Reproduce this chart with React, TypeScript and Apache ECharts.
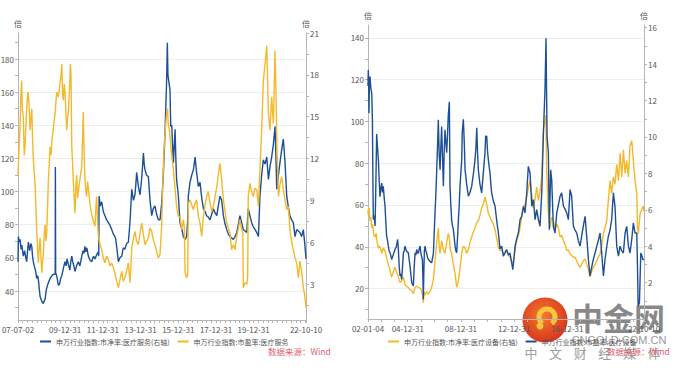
import React, { useEffect, useRef } from "react";
import * as echarts from "echarts";

// ---------- data (x = decimal year, y = value) ----------
// 左图：医疗服务
const leftPBName = "申万行业指数:市净率:医疗服务(右轴)";
const leftPEName = "申万行业指数:市盈率:医疗服务";
// 右图：医疗设备
const rightPBName = "申万行业指数:市净率:医疗设备(右轴)";
const rightPEName = "申万行业指数:市盈率:医疗设备";

const leftXLabels = ["2007-07-02", "2009-12-31", "2011-12-31", "2013-12-31", "2015-12-31", "2017-12-31", "2019-12-31", "2022-10-10"];
const rightXLabels = ["2002-01-04", "2004-12-31", "2008-12-31", "2012-12-31", "2016-12-31", "2022-10-10"];

const leftPELabels = [40, 60, 80, 100, 120, 140, 160, 180];
const leftPBLabels = [3, 6, 9, 12, 15, 18, 21];
const rightPELabels = [20, 40, 60, 80, 100, 120, 140];
const rightPBLabels = [2, 4, 6, 8, 10, 12, 14, 16];

const leftPE: [number, number][] = [
  [2007.50,110],[2007.55,125],[2007.61,140],[2007.65,158],[2007.69,167],[2007.73,150],[2007.78,145],[2007.83,122],[2007.87,127],[2007.92,140],[2007.96,150],[2008.02,160],[2008.05,159],[2008.10,148],[2008.14,137],[2008.19,145],[2008.23,150],[2008.27,132],[2008.31,120],[2008.36,112],[2008.40,105],[2008.45,90],[2008.49,77],[2008.54,64],[2008.58,57],[2008.63,68],[2008.67,72],[2008.72,60],[2008.76,51],[2008.80,58],[2008.84,62],[2008.89,75],[2008.93,80],[2008.98,70],[2009.02,75],[2009.07,92],[2009.11,107],[2009.16,118],[2009.20,127],[2009.25,122],[2009.29,130],[2009.37,138],[2009.46,147],[2009.55,160],[2009.64,157],[2009.72,165],[2009.78,170],[2009.82,177],[2009.86,160],[2009.90,155],[2009.95,165],[2009.99,160],[2010.03,150],[2010.08,137],[2010.13,145],[2010.17,148],[2010.22,160],[2010.28,177],[2010.31,170],[2010.35,127],[2010.39,118],[2010.43,107],[2010.48,95],[2010.52,87],[2010.57,103],[2010.61,110],[2010.66,96],[2010.70,100],[2010.79,108],[2010.88,115],[2010.93,135],[2010.96,148],[2011.00,125],[2011.05,107],[2011.10,100],[2011.14,97],[2011.19,106],[2011.23,102],[2011.32,92],[2011.41,86],[2011.50,82],[2011.58,79],[2011.63,90],[2011.67,97],[2011.72,82],[2011.76,73],[2011.85,68],[2011.94,65],[2012.02,60],[2012.11,57],[2012.20,61],[2012.29,59],[2012.38,55],[2012.47,57],[2012.55,54],[2012.64,51],[2012.73,46],[2012.82,42],[2012.91,47],[2013.00,52],[2013.08,46],[2013.17,48],[2013.26,52],[2013.35,57],[2013.40,50],[2013.44,45],[2013.49,56],[2013.53,66],[2013.62,72],[2013.70,76],[2013.79,70],[2013.88,68],[2013.97,75],[2014.06,81],[2014.15,74],[2014.23,68],[2014.32,70],[2014.41,72],[2014.50,78],[2014.59,76],[2014.67,71],[2014.76,68],[2014.85,64],[2014.94,60],[2015.03,62],[2015.12,80],[2015.21,117],[2015.29,135],[2015.38,147],[2015.43,150],[2015.47,140],[2015.52,138],[2015.56,133],[2015.65,122],[2015.74,113],[2015.83,102],[2015.91,91],[2016.00,85],[2016.09,85],[2016.18,77],[2016.27,83],[2016.32,78],[2016.36,51],[2016.44,48],[2016.50,50],[2016.53,93],[2016.62,95],[2016.71,92],[2016.80,89],[2016.89,93],[2016.97,95],[2017.06,85],[2017.15,81],[2017.24,73],[2017.33,85],[2017.42,92],[2017.50,97],[2017.59,100],[2017.68,93],[2017.77,88],[2017.86,91],[2017.95,97],[2018.04,103],[2018.12,110],[2018.21,117],[2018.30,107],[2018.39,95],[2018.48,88],[2018.57,81],[2018.65,78],[2018.74,75],[2018.83,65],[2018.92,68],[2019.01,65],[2019.10,73],[2019.19,78],[2019.27,83],[2019.36,77],[2019.42,75],[2019.45,42],[2019.54,45],[2019.63,44],[2019.68,48],[2019.71,97],[2019.80,105],[2019.89,100],[2019.98,97],[2020.07,102],[2020.16,101],[2020.25,91],[2020.33,113],[2020.42,137],[2020.51,167],[2020.60,177],[2020.69,188],[2020.74,165],[2020.78,147],[2020.86,137],[2020.95,157],[2021.04,141],[2021.13,185],[2021.18,160],[2021.22,131],[2021.31,97],[2021.40,105],[2021.48,109],[2021.57,101],[2021.66,95],[2021.75,89],[2021.84,91],[2021.92,77],[2022.01,70],[2022.10,65],[2022.19,60],[2022.28,57],[2022.37,48],[2022.45,58],[2022.54,52],[2022.63,42],[2022.70,38],[2022.775,30]
];

const leftPB: [number, number][] = [
  [2007.50,4.6],[2007.52,6.4],[2007.56,6.0],[2007.61,6.2],[2007.66,5.5],[2007.70,5.8],[2007.78,5.0],[2007.85,5.4],[2007.91,4.9],[2007.96,4.6],[2008.02,5.6],[2008.05,6.0],[2008.12,5.4],[2008.18,5.9],[2008.23,5.7],[2008.27,5.0],[2008.31,4.6],[2008.36,4.3],[2008.40,4.1],[2008.45,3.8],[2008.49,3.4],[2008.54,3.6],[2008.58,3.3],[2008.63,2.6],[2008.67,2.1],[2008.72,1.9],[2008.78,1.7],[2008.84,1.6],[2008.89,1.8],[2008.93,1.9],[2009.00,2.6],[2009.06,2.9],[2009.11,3.1],[2009.20,3.4],[2009.29,3.6],[2009.38,3.7],[2009.47,3.7],[2009.48,11.4],[2009.495,3.8],[2009.55,3.6],[2009.60,3.2],[2009.64,2.9],[2009.70,3.0],[2009.76,3.4],[2009.82,3.6],[2009.90,4.1],[2009.99,4.6],[2010.05,4.3],[2010.10,4.8],[2010.17,4.4],[2010.25,4.0],[2010.30,4.6],[2010.35,5.0],[2010.40,4.6],[2010.46,4.3],[2010.52,3.9],[2010.60,4.3],[2010.70,4.6],[2010.78,4.3],[2010.88,5.0],[2010.95,5.4],[2011.00,5.2],[2011.05,5.7],[2011.10,5.3],[2011.15,5.6],[2011.23,5.0],[2011.32,4.7],[2011.41,4.6],[2011.50,5.0],[2011.58,4.8],[2011.67,5.1],[2011.76,5.3],[2011.78,5.0],[2011.80,9.3],[2011.86,8.6],[2011.94,8.9],[2012.02,8.2],[2012.11,7.9],[2012.20,7.6],[2012.29,7.4],[2012.38,7.2],[2012.47,6.9],[2012.55,6.6],[2012.64,6.4],[2012.68,6.2],[2012.73,5.7],[2012.78,5.1],[2012.82,4.6],[2012.91,4.9],[2013.00,5.0],[2013.08,5.6],[2013.17,5.5],[2013.26,5.9],[2013.35,6.0],[2013.44,7.5],[2013.53,9.8],[2013.62,9.0],[2013.70,9.4],[2013.75,10.2],[2013.79,11.0],[2013.88,10.0],[2013.97,9.4],[2014.06,10.6],[2014.15,12.4],[2014.19,11.6],[2014.23,11.2],[2014.32,10.8],[2014.41,10.7],[2014.50,9.0],[2014.59,7.9],[2014.67,8.4],[2014.76,8.6],[2014.85,8.0],[2014.94,7.6],[2015.03,7.6],[2015.12,8.8],[2015.21,11.0],[2015.30,14.0],[2015.38,17.5],[2015.42,20.3],[2015.45,18.0],[2015.50,17.5],[2015.56,16.9],[2015.60,14.3],[2015.65,14.4],[2015.74,11.7],[2015.83,14.1],[2015.87,12.0],[2015.91,10.5],[2016.00,9.4],[2016.09,7.4],[2016.18,7.0],[2016.27,6.4],[2016.36,6.2],[2016.44,6.4],[2016.50,7.6],[2016.53,9.3],[2016.62,10.3],[2016.71,10.8],[2016.80,11.2],[2016.89,12.1],[2016.97,11.0],[2017.06,10.0],[2017.15,10.3],[2017.24,9.2],[2017.33,8.4],[2017.42,8.2],[2017.50,7.9],[2017.59,7.8],[2017.68,7.6],[2017.77,8.0],[2017.86,8.4],[2017.95,8.1],[2018.04,7.9],[2018.12,8.6],[2018.21,9.3],[2018.30,9.0],[2018.39,7.9],[2018.48,7.3],[2018.57,6.9],[2018.65,6.6],[2018.74,6.4],[2018.83,6.3],[2018.92,6.2],[2019.01,6.4],[2019.10,6.7],[2019.19,7.3],[2019.27,7.9],[2019.36,7.4],[2019.45,6.9],[2019.54,6.8],[2019.63,6.7],[2019.71,8.4],[2019.80,7.9],[2019.89,7.4],[2019.98,7.1],[2020.07,6.9],[2020.16,6.7],[2020.25,6.4],[2020.33,9.3],[2020.42,10.8],[2020.51,11.9],[2020.60,11.6],[2020.69,12.1],[2020.78,10.5],[2020.86,11.4],[2020.95,12.1],[2021.04,13.0],[2021.13,14.3],[2021.18,12.0],[2021.22,9.8],[2021.31,10.8],[2021.39,11.7],[2021.48,12.6],[2021.57,13.4],[2021.66,11.7],[2021.75,9.3],[2021.84,8.5],[2021.92,7.9],[2022.01,7.6],[2022.10,7.4],[2022.19,6.4],[2022.28,6.9],[2022.37,6.8],[2022.45,6.7],[2022.54,6.4],[2022.63,6.9],[2022.70,6.0],[2022.775,4.8]
];

const rightPE: [number, number][] = [
  [2002.008,117],[2002.03,124.7],[2002.06,118],[2002.08,104],[2002.12,120],[2002.16,121.5],[2002.22,116],[2002.29,113.5],[2002.34,101],[2002.38,70],[2002.41,53],[2002.48,55],[2002.54,50],[2002.60,70],[2002.66,94],[2002.72,88],[2002.79,81.7],[2002.85,72],[2002.91,64],[2002.98,68],[2003.04,70.5],[2003.10,66],[2003.16,69],[2003.22,64],[2003.29,59.4],[2003.35,52],[2003.41,45],[2003.48,43],[2003.54,40.3],[2003.60,38],[2003.66,37.1],[2003.72,36],[2003.79,33.9],[2003.90,36],[2004.04,38.7],[2004.14,40],[2004.24,43.5],[2004.30,38],[2004.36,30],[2004.42,26],[2004.48,27],[2004.54,24.4],[2004.60,30],[2004.67,37],[2004.73,38],[2004.79,40.3],[2004.90,38],[2005.04,37.1],[2005.10,34],[2005.17,30.7],[2005.23,27],[2005.30,22.8],[2005.36,22],[2005.42,21.2],[2005.48,30],[2005.55,37.1],[2005.61,36],[2005.67,38.7],[2005.73,37],[2005.80,37],[2005.86,39],[2005.92,40.3],[2006.01,36],[2006.10,33.9],[2006.14,25],[2006.17,14.8],[2006.21,28],[2006.25,38],[2006.30,40.3],[2006.36,38],[2006.42,37],[2006.48,35],[2006.55,33.9],[2006.67,33],[2006.80,32.3],[2006.93,37],[2007.05,56.2],[2007.12,66],[2007.18,76.9],[2007.25,90],[2007.30,100.8],[2007.36,85],[2007.43,76.9],[2007.49,88],[2007.55,97.6],[2007.62,82],[2007.68,69],[2007.74,85],[2007.80,96],[2007.87,90],[2007.93,85],[2008.00,95],[2008.05,103],[2008.13,109.4],[2008.18,69],[2008.24,60],[2008.30,53],[2008.37,50],[2008.43,48.2],[2008.50,44],[2008.56,40.3],[2008.62,38],[2008.68,37.1],[2008.75,45],[2008.81,53],[2008.87,60],[2008.93,69],[2009.00,76],[2009.06,81.7],[2009.10,95],[2009.18,101],[2009.25,90],[2009.31,76.9],[2009.43,70],[2009.56,64.2],[2009.68,66],[2009.81,69],[2009.94,75],[2010.06,81.7],[2010.13,88],[2010.19,97],[2010.25,85],[2010.31,76.9],[2010.43,70],[2010.56,65.8],[2010.68,75],[2010.81,84.9],[2010.86,93],[2010.94,92.9],[2011.00,86],[2011.06,81.7],[2011.13,78],[2011.19,75.3],[2011.25,70],[2011.31,65.8],[2011.44,62],[2011.57,59.4],[2011.70,52],[2011.82,46.6],[2011.94,39],[2012.07,40.3],[2012.19,35.5],[2012.32,37],[2012.44,38.7],[2012.57,36],[2012.69,37],[2012.80,33],[2012.90,29],[2013.00,35],[2013.07,40.3],[2013.20,44],[2013.32,46.6],[2013.45,53],[2013.57,54.6],[2013.70,59.4],[2013.82,56.2],[2013.95,65.8],[2014.07,78.5],[2014.20,75.3],[2014.33,59.4],[2014.45,62.6],[2014.58,53],[2014.70,57.8],[2014.83,53],[2014.95,49.8],[2015.08,65.8],[2015.20,92.9],[2015.33,116.7],[2015.40,139.8],[2015.48,92.9],[2015.58,84.9],[2015.65,48.2],[2015.75,76.9],[2015.83,72.1],[2015.95,49.8],[2016.08,46.6],[2016.21,56.2],[2016.33,60],[2016.46,64.2],[2016.58,65.8],[2016.71,59.4],[2016.83,58],[2016.96,56.2],[2017.08,53],[2017.21,67.4],[2017.33,64.2],[2017.46,49.8],[2017.58,48],[2017.71,46.6],[2017.83,43],[2017.96,40.3],[2018.08,45],[2018.21,50],[2018.34,54.6],[2018.46,45],[2018.59,33.9],[2018.71,26],[2018.83,30],[2018.96,33.9],[2019.09,37],[2019.22,40.3],[2019.34,43],[2019.47,46.6],[2019.59,37],[2019.72,26],[2019.84,33.9],[2019.97,40],[2020.09,45],[2020.22,48],[2020.34,53],[2020.47,65.8],[2020.59,59.4],[2020.72,40.3],[2020.85,35.5],[2020.97,40.3],[2021.10,38],[2021.22,37],[2021.35,46.6],[2021.47,49.8],[2021.60,40.3],[2021.72,37],[2021.85,43.5],[2021.97,51.4],[2022.10,46.6],[2022.23,46.6],[2022.30,25],[2022.33,11.6],[2022.43,13.2],[2022.48,25],[2022.53,37],[2022.60,36],[2022.68,33.9],[2022.775,34]
];

const rightPB: [number, number][] = [
  [2002.008,6.0],[2002.03,5.7],[2002.08,6.1],[2002.16,5.4],[2002.22,5.6],[2002.29,5.0],[2002.36,5.2],[2002.45,4.6],[2002.54,4.5],[2002.62,4.7],[2002.70,4.2],[2002.79,3.9],[2002.90,4.0],[2003.04,3.6],[2003.15,3.9],[2003.29,3.75],[2003.40,3.4],[2003.54,3.0],[2003.66,2.7],[2003.79,2.3],[2003.92,2.6],[2004.04,2.84],[2004.16,2.6],[2004.29,2.3],[2004.42,2.0],[2004.54,2.1],[2004.67,2.3],[2004.79,1.9],[2004.92,1.8],[2005.04,1.74],[2005.17,1.6],[2005.30,1.55],[2005.42,1.4],[2005.55,1.74],[2005.67,1.8],[2005.80,1.74],[2005.92,1.7],[2006.05,1.55],[2006.12,1.3],[2006.17,0.9],[2006.22,1.5],[2006.30,1.3],[2006.42,1.5],[2006.55,1.37],[2006.67,1.5],[2006.80,1.74],[2006.93,2.2],[2007.05,3.2],[2007.18,4.2],[2007.30,5.0],[2007.37,4.0],[2007.43,3.6],[2007.55,4.3],[2007.68,3.8],[2007.80,3.6],[2007.93,4.2],[2008.05,4.7],[2008.12,4.5],[2008.20,3.8],[2008.30,3.6],[2008.43,3.0],[2008.56,2.5],[2008.68,1.74],[2008.75,1.9],[2008.81,2.1],[2008.93,2.8],[2009.06,3.6],[2009.18,4.0],[2009.31,3.9],[2009.43,3.6],[2009.56,3.8],[2009.68,4.2],[2009.81,4.5],[2009.94,4.8],[2010.06,5.0],[2010.19,5.3],[2010.31,5.4],[2010.43,5.7],[2010.56,6.1],[2010.68,6.3],[2010.81,6.7],[2010.94,6.3],[2011.06,5.8],[2011.19,5.6],[2011.31,5.4],[2011.44,5.2],[2011.57,4.9],[2011.70,4.4],[2011.82,3.9],[2011.94,3.76],[2012.07,3.8],[2012.19,3.57],[2012.32,3.7],[2012.44,3.76],[2012.57,3.5],[2012.69,3.39],[2012.82,3.1],[2012.95,3.2],[2013.07,3.8],[2013.20,4.3],[2013.32,4.6],[2013.45,5.0],[2013.57,5.6],[2013.70,6.1],[2013.82,6.3],[2013.95,6.7],[2014.07,7.2],[2014.20,7.6],[2014.33,6.8],[2014.45,6.1],[2014.58,6.6],[2014.70,7.25],[2014.83,6.5],[2014.95,7.0],[2015.08,7.8],[2015.20,10.4],[2015.33,10.9],[2015.40,11.2],[2015.45,8.2],[2015.58,5.8],[2015.70,5.0],[2015.83,5.6],[2015.95,5.4],[2016.08,5.0],[2016.21,5.2],[2016.33,5.0],[2016.46,4.5],[2016.58,4.6],[2016.71,4.3],[2016.83,4.1],[2016.96,3.76],[2017.08,3.8],[2017.21,3.57],[2017.33,3.5],[2017.46,3.39],[2017.58,3.4],[2017.71,3.2],[2017.83,3.0],[2017.96,2.84],[2018.08,3.0],[2018.21,3.2],[2018.34,3.3],[2018.46,3.0],[2018.59,2.7],[2018.71,2.3],[2018.83,2.6],[2018.96,2.84],[2019.09,3.0],[2019.22,3.2],[2019.34,3.4],[2019.47,3.57],[2019.59,4.0],[2019.72,4.7],[2019.84,5.0],[2019.97,5.4],[2020.09,6.5],[2020.22,7.6],[2020.34,6.9],[2020.47,7.8],[2020.59,7.4],[2020.72,8.5],[2020.85,7.6],[2020.97,9.1],[2021.10,7.8],[2021.22,9.3],[2021.35,8.0],[2021.47,8.7],[2021.60,7.8],[2021.72,9.5],[2021.85,9.8],[2021.97,8.7],[2022.10,7.6],[2022.23,6.9],[2022.28,5.0],[2022.35,4.7],[2022.48,5.8],[2022.60,6.0],[2022.70,6.2],[2022.775,5.9]
];

// ---------- helpers ----------
const BLUE = "#1d4f95";
const YELLOW = "#f2b92c";
const AXIS = "#b5b5b5";
const LABEL = "#555";
const FONT = "'Noto Sans CJK SC', 'Noto Sans', sans-serif";

function yearToTime(v: number): number {
  const y = Math.floor(v);
  const a = Date.UTC(y, 0, 1);
  const b = Date.UTC(y + 1, 0, 1);
  return a + (v - y) * (b - a);
}
const toSeries = (arr: [number, number][]) => arr.map(([d, v]) => [yearToTime(d), v]);
const pad = (n: number) => (n < 10 ? "0" + n : "" + n);
const fmtDate = (t: number) => {
  const d = new Date(t);
  return `${String(d.getUTCFullYear()).slice(2)}-${pad(d.getUTCMonth() + 1)}-${pad(d.getUTCDate())}`;
};

function quarterTicks(from: number, to: number): number[] {
  const out: number[] = [];
  for (let y = 2007; y <= 2022; y++) {
    for (const m of [3, 6, 9, 12]) {
      const t = Date.UTC(y, m, 0);
      if (t >= from && t <= to) out.push(t);
    }
  }
  return out;
}
function yearTicks(from: number, to: number): number[] {
  const out: number[] = [];
  for (let y = 2002; y <= 2022; y++) {
    const t = Date.UTC(y, 11, 31);
    if (t >= from && t <= to) out.push(t);
  }
  return out;
}
function stepTicks(a: number, b: number, s: number): number[] {
  const out: number[] = [];
  for (let v = a; v <= b + 1e-9; v += s) out.push(Math.round(v * 100) / 100);
  return out;
}

export default function App() {
  const ref = useRef<HTMLDivElement>(null);

  useEffect(() => {
    if (!ref.current) return;
    const chart = echarts.init(ref.current, null, { renderer: "svg" });

    const lMin = Date.parse(leftXLabels[0]);
    const lMax = Date.parse(leftXLabels[leftXLabels.length - 1]);
    const rMin = Date.parse(rightXLabels[0]);
    const rMax = Date.parse(rightXLabels[rightXLabels.length - 1]);

    const xCommon = (min: number, max: number, labels: string[], ticks: number[]) => ({
      type: "value" as const,
      min,
      max,
      axisLine: { show: true, lineStyle: { color: AXIS, width: 1 } },
      axisTick: { show: true, length: 3, lineStyle: { color: AXIS }, customValues: [min, ...ticks, max] },
      axisLabel: {
        color: LABEL,
        fontSize: 8,
        fontFamily: FONT,
        margin: 5,
        hideOverlap: false,
        customValues: labels.map((s) => Date.parse(s)),
        formatter: (v: number) => fmtDate(v),
      },
      splitLine: { show: false },
    });

    const yCommon = (gridIndex: number, position: "left" | "right", min: number, max: number, labels: number[], ticks: number[]) => ({
      type: "value" as const,
      gridIndex,
      position,
      min,
      max,
      name: "倍",
      nameLocation: "end" as const,
      nameGap: 6,
      nameTextStyle: { color: LABEL, fontSize: 8, fontFamily: FONT },
      axisLine: { show: true, lineStyle: { color: AXIS, width: 1 } },
      axisTick: { show: true, length: 3, lineStyle: { color: AXIS }, customValues: ticks },
      axisLabel: { color: LABEL, fontSize: 8, fontFamily: FONT, margin: 4, customValues: labels, hideOverlap: false },
      splitLine: { show: false },
    });

    const gridLines = (gridIndex: number, min: number, max: number, labels: number[]) => ({
      type: "value" as const,
      gridIndex,
      position: "left" as const,
      min,
      max,
      axisLine: { show: false },
      axisTick: { show: false, customValues: labels },
      axisLabel: { show: false },
      splitLine: { show: true, lineStyle: { color: "#ededed", width: 1 } },
    });

    const lineSeries = (name: string, color: string, xAxisIndex: number, yAxisIndex: number, data: [number, number][], z: number) => ({
      name,
      type: "line" as const,
      xAxisIndex,
      yAxisIndex,
      data: toSeries(data),
      showSymbol: false,
      symbol: "none",
      color,
      lineStyle: { color, width: 1.4 },
      z,
    });

    const legendCommon = {
      icon: "rect",
      itemWidth: 11,
      itemHeight: 2,
      itemGap: 8,
      top: 338,
      padding: 0,
      textStyle: { color: LABEL, fontSize: 7, fontFamily: FONT },
    };

    const wmChars = ["中", "文", "财", "经", "媒", "体"];

    chart.setOption({
      animation: false,
      backgroundColor: "#ffffff",
      textStyle: { fontFamily: FONT },
      grid: [
        { left: 18, right: 373, top: 33, bottom: 50, containLabel: false, outerBoundsMode: "none" },
        { left: 368, right: 35, top: 25, bottom: 51, containLabel: false, outerBoundsMode: "none" },
      ],
      xAxis: [
        { ...xCommon(lMin, lMax, leftXLabels, quarterTicks(lMin, lMax)), gridIndex: 0 },
        { ...xCommon(rMin, rMax, rightXLabels, yearTicks(rMin, rMax)), gridIndex: 1 },
      ],
      yAxis: [
        yCommon(0, "left", 22.5, 195.7, leftPELabels, stepTicks(30, 190, 10)),
        yCommon(0, "right", 0.42, 21, leftPBLabels, stepTicks(1.5, 21, 1.5)),
        gridLines(0, 22.5, 195.7, leftPELabels),
        yCommon(1, "left", 5.4, 146.2, rightPELabels, stepTicks(10, 140, 10)),
        yCommon(1, "right", 0, 16.15, rightPBLabels, stepTicks(1, 16, 1)),
        gridLines(1, 5.4, 146.2, rightPELabels),
      ],
      legend: [
        { ...legendCommon, left: 40, data: [leftPBName, leftPEName] },
        { ...legendCommon, left: 388, data: [rightPBName, rightPEName] },
      ],
      series: [
        lineSeries(leftPBName, BLUE, 0, 1, leftPB, 2),
        lineSeries(leftPEName, YELLOW, 0, 0, leftPE, 3),
        lineSeries(rightPBName, YELLOW, 1, 4, rightPB, 2),
        lineSeries(rightPEName, BLUE, 1, 3, rightPE, 3),
      ],
      graphic: [
        {
          type: "text",
          left: 268,
          top: 347,
          style: { text: "数据来源：Wind", fill: "#e0606c", fontSize: 8.5, fontFamily: FONT },
        },
        {
          type: "text",
          left: 607,
          top: 347,
          z: 100,
          style: { text: "数据来源：Wind", fill: "#e0606c", fontSize: 8.5, fontFamily: FONT },
        },
        // watermark
        {
          type: "group",
          z: 90,
          children: [
            {
              type: "circle",
              shape: { cx: 545, cy: 320, r: 22.5 },
              style: {
                fill: new echarts.graphic.RadialGradient(0.45, 0.4, 0.7, [
                  { offset: 0, color: "#f47a2c" },
                  { offset: 1, color: "#d42b1d" },
                ]),
              },
            },
            {
              type: "arc",
              shape: { cx: 547, cy: 317, r: 8, startAngle: Math.PI * 0.7, endAngle: Math.PI * 2.3 },
              style: { stroke: "#f9c63e", lineWidth: 5, fill: "none" },
            },
            {
              type: "circle",
              shape: { cx: 540, cy: 326, r: 3.5 },
              style: { fill: "#f9c63e" },
            },
            {
              type: "text",
              x: 572,
              y: 316,
              style: {
                text: "中金网",
                fill: "rgba(120,120,120,0.88)",
                fontSize: 31,
                fontWeight: "bold",
                fontFamily: FONT,
                verticalAlign: "middle",
                align: "left",
              },
            },
            {
              type: "text",
              x: 619,
              y: 340,
              style: {
                text: "CNGOLD.COM.CN",
                fill: "rgba(130,130,130,0.85)",
                fontSize: 11,
                fontFamily: "'Liberation Sans', Arial, sans-serif",
                verticalAlign: "middle",
                align: "center",
              },
            },
            ...wmChars.map((c, i) => ({
              type: "text",
              x: 531 + i * 24.6,
              y: 352,
              style: {
                text: c,
                fill: "rgba(130,130,130,0.8)",
                fontSize: 13,
                fontFamily: FONT,
                verticalAlign: "middle",
                align: "center",
              },
            })),
          ],
        },
      ],
    });

    return () => chart.dispose();
  }, []);

  return (
    <div
      ref={ref}
      style={{ position: "absolute", left: 0, top: 0, width: 679, height: 370, background: "#fff" }}
    />
  );
}
